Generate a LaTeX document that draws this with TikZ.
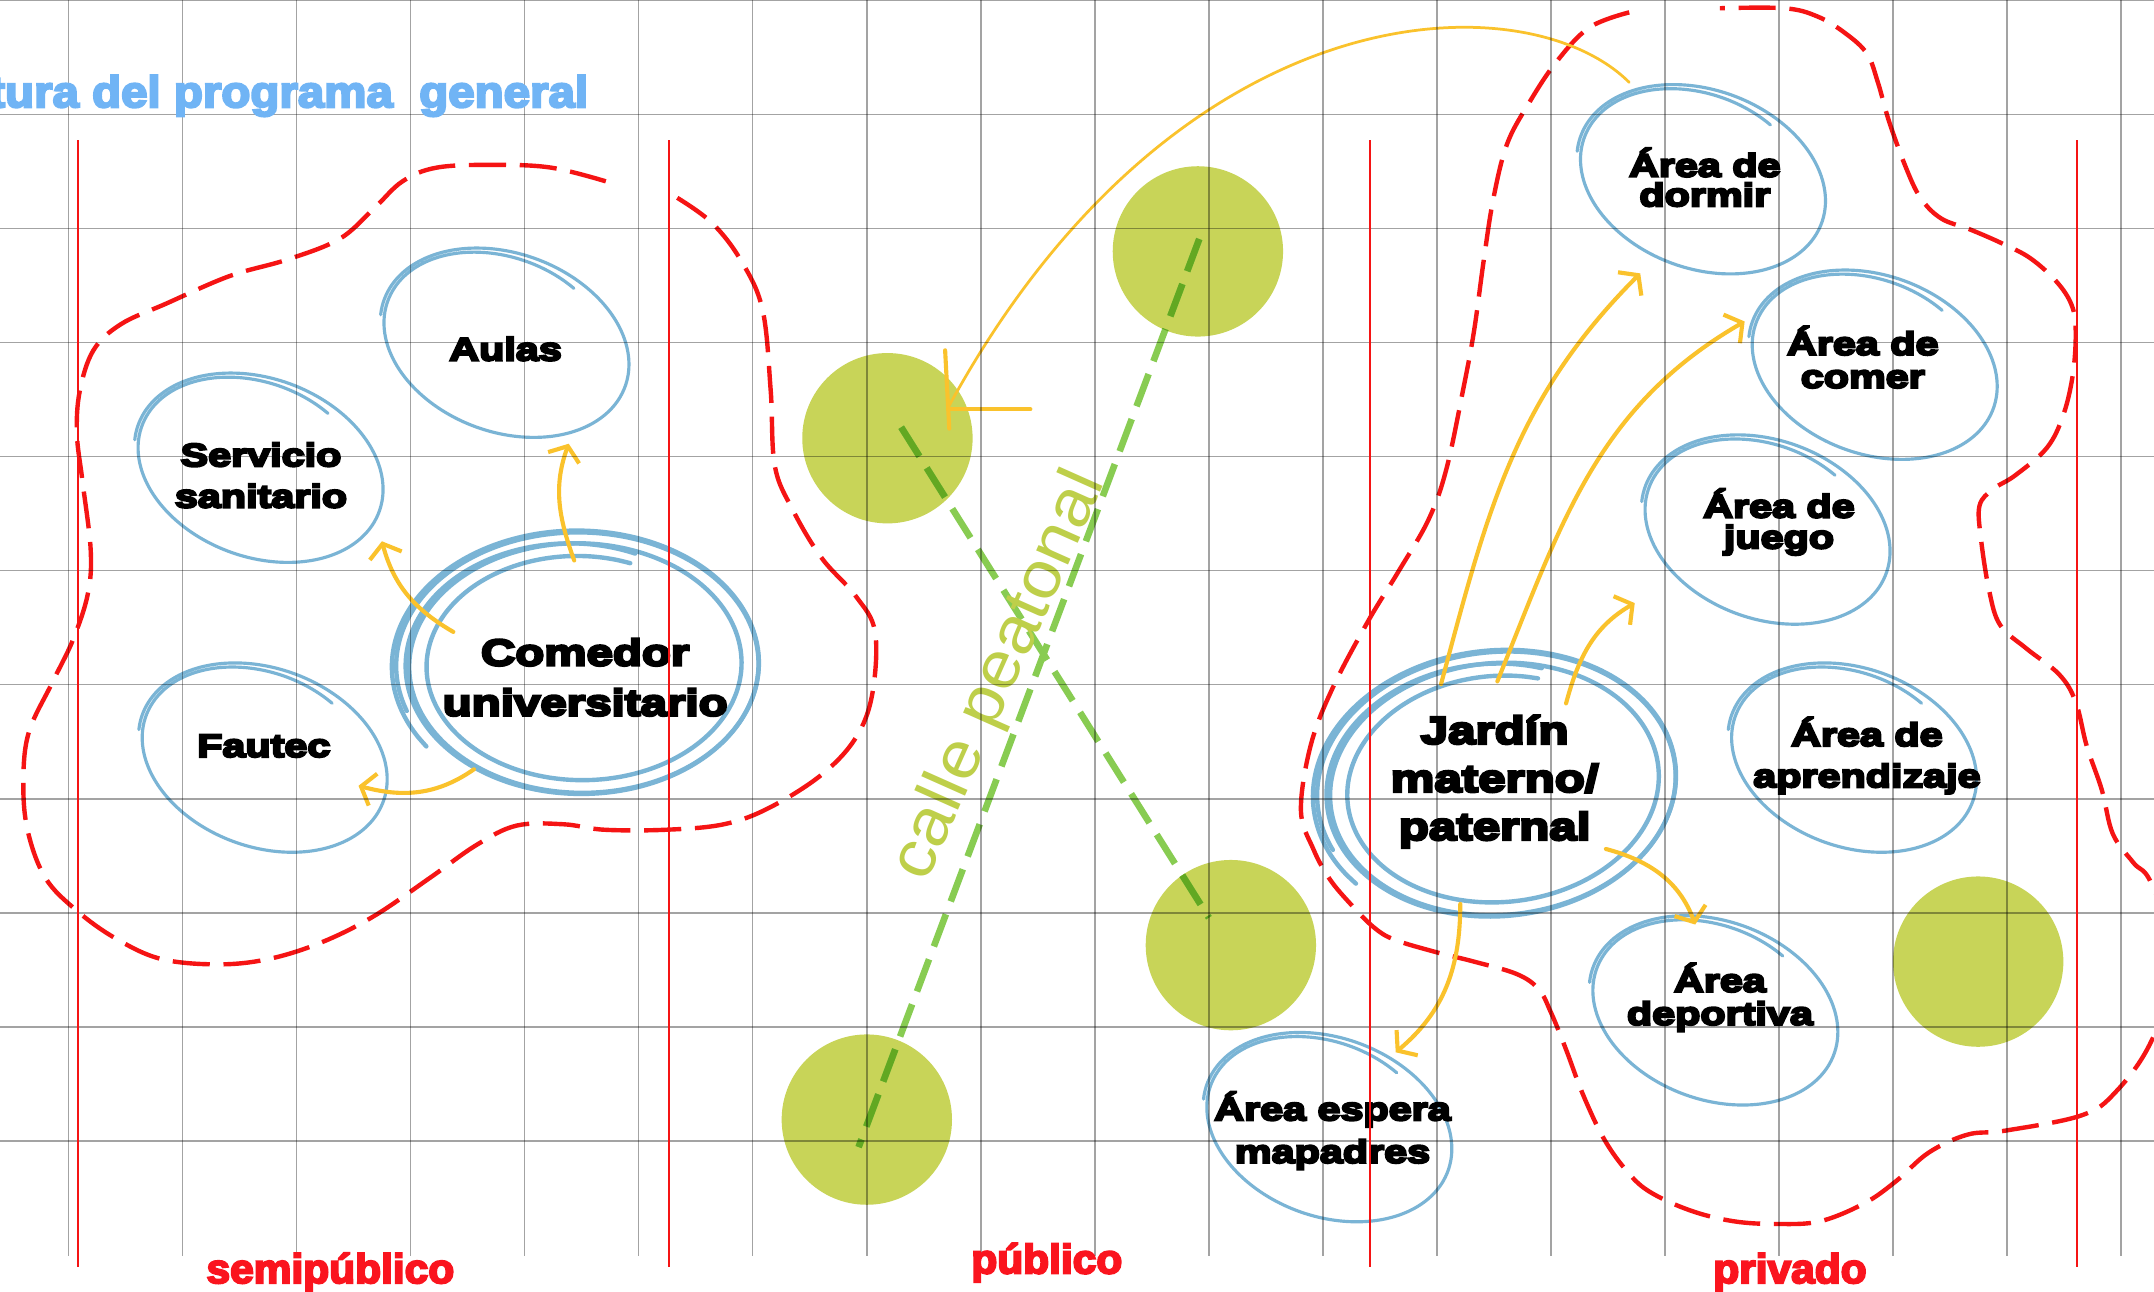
\documentclass[tikz,border=0pt]{standalone}
\usepackage{fontspec}
\setmainfont{Liberation Sans}
\newfontfamily\heavyfont[FakeStretch=1.28,FakeBold=7]{Liberation Sans Bold}
\newfontfamily\labfont[FakeStretch=1.03,FakeBold=5]{Liberation Sans Bold}
\newfontfamily\titlefont[FakeStretch=1.08,FakeBold=5]{Liberation Sans Bold}
\newfontfamily\callefont[FakeStretch=1.08]{Liberation Sans}
\usetikzlibrary{arrows.meta,calc}
\definecolor{ringblue}{RGB}{122,180,213}
\definecolor{arrowyellow}{RGB}{250,194,44}
\definecolor{greenfill}{RGB}{200,212,88}
\definecolor{gdashc}{RGB}{136,204,82}
\definecolor{gdashdarkc}{RGB}{98,168,34}
\definecolor{redlinec}{RGB}{245,20,20}
\definecolor{labred}{RGB}{250,20,30}
\definecolor{titleblue}{RGB}{112,180,245}
\definecolor{callegreen}{RGB}{190,207,74}
% hand drawn ring: cx, cy, rx, ry, t0, t1, linear shrink, tail shrink, style
\newcommand{\hring}[9]{%
  \draw[#9] plot[smooth, samples=170, domain={#6}:{#5}, variable=\t]
  ({#1+#3*(1-#7*((#5-\t)/(#5-(#6)))-#8*max(0,((#5-\t)/(#5-(#6))-0.8)*5)*max(0,((#5-\t)/(#5-(#6))-0.8)*5))*cos(\t)},
   {#2+#4*(1-#7*((#5-\t)/(#5-(#6)))-#8*max(0,((#5-\t)/(#5-(#6))-0.8)*5)*max(0,((#5-\t)/(#5-(#6))-0.8)*5))*sin(\t)});}
\tikzset{
  ring/.style={draw=ringblue, line width=2.3pt, line cap=round},
  thickring/.style={ring, line width=3.2pt},
  yarrow/.style={draw=arrowyellow, line width=3pt, line cap=round, -{Straight Barb[length=9pt,width=24pt]}},
  ythin/.style={draw=arrowyellow, line width=2pt, line cap=round},
  ybar/.style={draw=arrowyellow, line width=3pt, line cap=round},
  gcirc/.style={circle, fill=greenfill, minimum size=124pt, inner sep=0pt, draw=none},
  gdash/.style={draw=gdashc, line width=4.8pt, dash pattern=on 25pt off 10pt},
  gdashdark/.style={gdash, draw=gdashdarkc},
  reddash/.style={draw=redlinec, line width=3.2pt, dash pattern=on 27pt off 10pt},
  gridline/.style={draw=black, draw opacity=0.36, line width=1pt},
  redv/.style={draw=redlinec, line width=1.4pt},
  redlab/.style={anchor=base, text=labred, inner sep=0pt, font={\labfont\fontsize{30pt}{30pt}\selectfont}},
  txt/.style={align=center, inner sep=0pt, text=black},
}
\begin{document}
\begin{tikzpicture}[x=1pt,y=1pt]
\useasboundingbox (0,0) rectangle (1568,-939.8);
\fill[white] (0,0) rectangle (1568,-939.8);

% green circles
\node[gcirc] (g1) at (872,-183) {};
\node[gcirc] (g2) at (646,-319) {};
\node[gcirc] (g3) at (896,-688) {};
\node[gcirc] (g4) at (631,-815) {};
\node[gcirc] (g5) at (1440,-700) {};

% red dashed zones
\draw[reddash] plot[smooth, tension=0.6] coordinates {(441,-132) (401,-122) (359,-120) (318,-122) (293,-132) (272,-152) (247,-174) (209,-189) (167,-201) (121,-221) (88,-236) (68,-255) (58,-285) (56,-316) (60,-350) (66,-400) (64,-432) (53,-466) (38,-497) (21,-533) (17,-568) (20,-604) (33,-639) (56,-663) (84,-683) (117,-698) (159,-702) (196,-698) (234,-686) (272,-667) (313,-639) (347,-615) (376,-601) (410,-600) (440,-604) (485,-604) (527,-600) (560,-588) (598,-564) (623,-537) (635,-505) (637,-460) (623,-434) (598,-406) (577,-371) (564,-339) (561,-284) (555,-225) (539,-189) (518,-162) (493,-144)};
\draw[reddash] plot[smooth, tension=0.6] coordinates {(1186,-9) (1157,-20) (1133,-45) (1113,-75) (1097,-105) (1087,-145) (1080,-190) (1073,-241) (1065,-284) (1053,-341) (1040,-378) (1018,-416) (996,-452) (970,-501) (954,-543) (947,-590) (956,-618) (968,-640) (984,-659) (1000,-675) (1015,-684) (1045,-693) (1073,-700) (1104,-709) (1120,-720) (1129,-737) (1140,-764) (1152,-796) (1167,-828) (1183,-851) (1200,-867) (1230,-881) (1262,-889) (1294,-891) (1325,-889) (1357,-876) (1380,-860) (1404,-839) (1432,-826) (1460,-823) (1515,-812) (1540,-795) (1566,-758) (1585,-700) (1566,-643) (1553,-628) (1538,-607) (1530,-575) (1519,-543) (1511,-511) (1499,-491) (1475,-472) (1456,-455) (1448,-430) (1442,-392) (1441,-368) (1451,-356) (1467,-346) (1490,-326) (1502,-302) (1509,-272) (1511,-241) (1508,-222) (1497,-205) (1478,-188) (1457,-177) (1434,-167) (1413,-159) (1398,-144) (1387,-121) (1375,-88) (1367,-60) (1359,-39) (1343,-24) (1323,-12) (1299,-6) (1252,-6)};

% pedestrian street
\draw[gdash] ($(g1)+(1,9)$) -- ($(g4)+(-6,-20)$);
\draw[gdash] ($(g2)+(10,8)$) -- ($(g3)+(-16,20)$);
\begin{scope}
  \clip (g1.center) circle[radius=62pt] (g2.center) circle[radius=62pt] (g3.center) circle[radius=62pt] (g4.center) circle[radius=62pt];
  \draw[gdashdark] ($(g1)+(1,9)$) -- ($(g4)+(-6,-20)$);
  \draw[gdashdark] ($(g2)+(10,8)$) -- ($(g3)+(-16,20)$);
\end{scope}
\node[text=callegreen, inner sep=0pt, rotate=66, font={\callefont\fontsize{48pt}{48pt}\selectfont}] (calle) at (728,-492) {calle peatonal};

% rings
\hring{368}{-250}{94}{66}{190}{-293}{0.04}{0.06}{ring, rotate around={-20:(368,-250)}}
\hring{189}{-341}{94}{66}{190}{-293}{0.04}{0.06}{ring, rotate around={-20:(189,-341)}}
\hring{192}{-552}{94}{66}{190}{-293}{0.04}{0.06}{ring, rotate around={-20:(192,-552)}}
\hring{1239}{-131}{94}{66}{190}{-293}{0.04}{0.06}{ring, rotate around={-20:(1239,-131)}}
\hring{1364}{-266}{94}{66}{190}{-293}{0.04}{0.06}{ring, rotate around={-20:(1364,-266)}}
\hring{1286}{-386}{94}{66}{190}{-293}{0.04}{0.06}{ring, rotate around={-20:(1286,-386)}}
\hring{1349}{-552}{94}{66}{190}{-293}{0.04}{0.06}{ring, rotate around={-20:(1349,-552)}}
\hring{1248}{-736}{94}{66}{190}{-293}{0.04}{0.06}{ring, rotate around={-20:(1248,-736)}}
\hring{967}{-821}{94}{66}{190}{-293}{0.04}{0.06}{ring, rotate around={-20:(967,-821)}}
\hring{422}{-484}{138}{101}{216}{-650}{0.22}{0}{thickring}
\hring{422}{-484}{134}{98}{200}{-290}{0.07}{0.05}{thickring}
\hring{1091}{-572}{137}{102}{216}{-650}{0.22}{0}{thickring, rotate around={6:(1091,-572)}}
\hring{1091}{-572}{133}{99}{200}{-290}{0.07}{0.05}{thickring, rotate around={6:(1091,-572)}}

% texts
\node[txt, font={\heavyfont\fontsize{23.5pt}{30pt}\selectfont}] (aulas) at (368,-254) {Aulas};
\node[txt, font={\heavyfont\fontsize{23.5pt}{30pt}\selectfont}] (serv) at (190,-346) {Servicio\\sanitario};
\node[txt, font={\heavyfont\fontsize{23.5pt}{30pt}\selectfont}] (fautec) at (192,-543) {Fautec};
\node[txt, font={\heavyfont\fontsize{27pt}{36.5pt}\selectfont}] (comedor) at (426,-493) {Comedor\\universitario};
\node[txt, font={\heavyfont\fontsize{23.5pt}{21.5pt}\selectfont}] (dormir) at (1241,-129) {Área de\\dormir};
\node[txt, font={\heavyfont\fontsize{23.5pt}{24pt}\selectfont}] (comer) at (1356,-260) {Área de\\comer};
\node[txt, font={\heavyfont\fontsize{23.5pt}{22.5pt}\selectfont}] (juego) at (1295,-380) {Área de\\juego};
\node[txt, font={\heavyfont\fontsize{23.5pt}{30pt}\selectfont}] (aprend) at (1359,-550) {Área de\\aprendizaje};
\node[txt, font={\heavyfont\fontsize{23.5pt}{24pt}\selectfont}] (deport) at (1252,-726) {Área\\deportiva};
\node[txt, font={\heavyfont\fontsize{23.5pt}{31pt}\selectfont}] (espera) at (970,-823) {Área espera\\mapadres};
\node[txt, font={\heavyfont\fontsize{28pt}{35pt}\selectfont}] (jardin) at (1088,-569) {Jardín\\materno/\\paternal};

% yellow arrows
\draw[yarrow] ($(comedor)+(-8,85)$) to[out=110,in=-110] ($(aulas)+(46,-69)$);
\draw[yarrow] ($(comedor)+(-96,33)$) to[out=150,in=-75] ($(serv)+(88,-48)$);
\draw[yarrow] ($(comedor)+(-81,-67)$) to[out=215,in=-15] ($(fautec)+(69,-29)$);
\draw[yarrow] ($(jardin)+(-39,71)$) to[out=75,in=-135] ($(dormir)+(-47,-70)$);
\draw[yarrow] ($(jardin)+(2,73)$) to[out=68,in=-150] ($(comer)+(-86,26)$);
\draw[yarrow] ($(jardin)+(52,57)$) to[out=75,in=-150] ($(juego)+(-105,-59)$);
\draw[yarrow] ($(jardin)+(81,-49)$) to[out=-15,in=110] ($(deport)+(-18,53)$);
\draw[yarrow] ($(jardin)+(-25,-89)$) to[out=-90,in=40] ($(espera)+(46,57)$);
\draw[ythin] ($(dormir)+(-55,69)$) .. controls +(-75,75) and +(167,307) .. ($(g2)+(44,22)$);
\draw[ybar] ($(g2)+(42,64)$) -- ($(g2)+(45,7)$);
\draw[ybar] ($(g2)+(44,21)$) -- ($(g2)+(104,21)$);

% grid
\foreach \i in {0,...,18} \draw[gridline] ({50+83*\i},0) -- ({50+83*\i},-914);
\foreach \j in {0,...,10} \draw[gridline] (0,{-83*\j-0.5}) -- (1568,{-83*\j-0.5});
\foreach \xx in {57,487,997,1512} \draw[redv] (\xx,-102) -- (\xx,-922);

% titles and labels
\node[anchor=base west, inner sep=0pt, text=titleblue, font={\titlefont\fontsize{32pt}{32pt}\selectfont}] (title) at (-8,-78) {tura del programa\ \ general};
\node[redlab] (semi) at (240.5,-934) {semipúblico};
\node[redlab] (pub) at (762,-927) {público};
\node[redlab] (priv) at (1303,-934) {privado};
\end{tikzpicture}
\end{document}
